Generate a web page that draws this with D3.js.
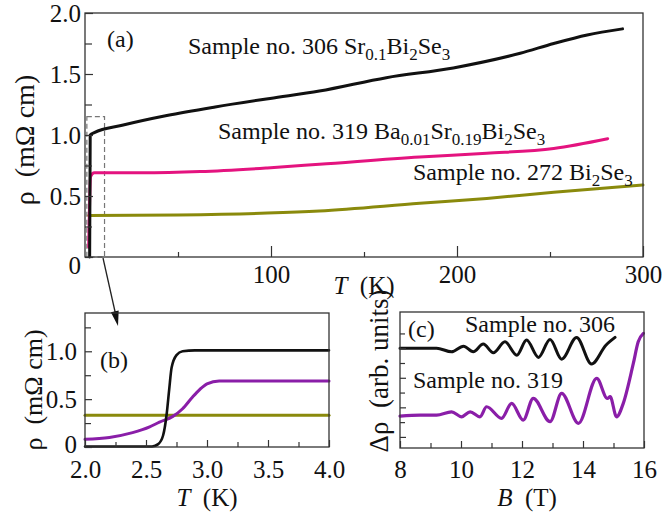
<!DOCTYPE html>
<html>
<head>
<meta charset="utf-8">
<script src="https://cdn.jsdelivr.net/npm/d3@7"></script>
<style>
  body { margin: 0; background: #fff; }
  svg text { font-family: "Liberation Serif", "Times New Roman", serif; fill: #111; }
</style>
</head>
<body>
<script>
// panel (a): rho(T) for three samples, 0..300 K
const tempA306 = [2.5, 2.8, 5, 20, 44, 70, 99.5, 126, 162, 198, 234, 252, 270, 289];
const rhoA306 = [0.0, 1.0, 1.02, 1.08, 1.16, 1.23, 1.30, 1.36, 1.47, 1.55, 1.67, 1.75, 1.82, 1.87];
const tempA319 = [2.0, 3.0, 5, 30, 62, 98, 126, 180, 216, 252, 281];
const rhoA319 = [0.08, 0.66, 0.69, 0.69, 0.70, 0.73, 0.76, 0.82, 0.85, 0.89, 0.97];
const tempA272 = [2, 50, 98, 126, 180, 216, 252, 300];
const rhoA272 = [0.34, 0.345, 0.36, 0.377, 0.44, 0.48, 0.53, 0.59];

// panel (b): zoom on the transition, 2..4 K
const tempB306 = [2.0, 2.3, 2.55, 2.6, 2.64, 2.67, 2.69, 2.71, 2.75, 2.8, 2.9, 4.0];
const rhoB306 = [0.005, 0.005, 0.005, 0.03, 0.12, 0.35, 0.6, 0.83, 0.96, 1.0, 1.01, 1.01];
const tempB319 = [2.0, 2.2, 2.39, 2.53, 2.61, 2.72, 2.8, 2.88, 2.94, 3.0, 3.1, 3.5, 4.0];
const rhoB319 = [0.08, 0.10, 0.15, 0.21, 0.26, 0.32, 0.40, 0.52, 0.60, 0.66, 0.69, 0.69, 0.69];
const tempB272 = [2.0, 4.0];
const rhoB272 = [0.333, 0.333];

// panel (c): SdH oscillations, arb. units
const fieldC306 = [8.0, 8.6, 9.2, 9.69, 10.08, 10.4, 10.73, 11.06, 11.44, 11.83, 12.15, 12.54, 12.92, 13.3, 13.79, 14.28, 14.75, 15.05];
const drhoC306 = [6.0, 6.0, 6.0, 5.76, 6.14, 5.76, 6.28, 5.69, 6.43, 5.53, 6.55, 5.38, 6.59, 5.26, 6.73, 4.93, 6.2, 6.73];
const fieldC319 = [8.0, 8.66, 9.2, 9.69, 10.02, 10.3, 10.62, 10.84, 11.33, 11.66, 12.04, 12.37, 12.92, 13.3, 13.85, 14.45, 14.8, 14.89, 15.1, 15.32, 15.65, 15.81, 15.98];
const drhoC319 = [1.41, 1.48, 1.48, 1.70, 1.36, 1.70, 1.36, 2.04, 1.26, 2.27, 1.14, 2.61, 1.03, 2.95, 0.92, 3.96, 2.6, 2.72, 1.36, 2.27, 4.97, 6.43, 7.0];

const serif = '"Liberation Serif", "Times New Roman", serif';
const black = '#111', pink = '#e4137f', olive = '#8a8a0c', purple = '#8a1ea8';

const svg = d3.select('body')
  .append('svg')
  .attr('width', 666)
  .attr('height', 515);

function zip(xs, ys) {
  return xs.map((v, i) => [v, ys[i]]);
}

function frame(x, y) {
  svg.append('rect')
    .attr('x', x.range()[0])
    .attr('y', y.range()[1])
    .attr('width', x.range()[1] - x.range()[0])
    .attr('height', y.range()[0] - y.range()[1])
    .attr('fill', 'none')
    .attr('stroke', '#333')
    .attr('stroke-width', 1.3);
}

function ticks(axis, pos, values, size, fmt, pad) {
  const g = svg.append('g')
    .attr('transform', pos)
    .call(axis.tickValues(values).tickSize(-size).tickPadding(pad || 6)
      .tickFormat(fmt || (() => '')));
  g.attr('font-family', null).attr('font-size', null);
  g.select('.domain').remove();
  g.selectAll('line').attr('stroke', '#333').attr('stroke-width', 1.2);
  g.selectAll('text')
    .style('font-family', serif)
    .style('font-size', '25px');
  if (!fmt) g.selectAll('text').remove();
  return g;
}

function curve(x, y, data, color, width) {
  const line = d3.line()
    .x(d => x(d[0]))
    .y(d => y(d[1]))
    .curve(d3.curveMonotoneX);
  svg.append('path')
    .datum(data)
    .attr('fill', 'none')
    .attr('stroke', color)
    .attr('stroke-width', width)
    .attr('stroke-linejoin', 'round')
    .attr('stroke-linecap', 'round')
    .attr('d', line);
}

// parts: plain strings, or ['sub', text] for a subscript
function label(x, y, parts) {
  const t = svg.append('text')
    .attr('x', x)
    .attr('y', y)
    .style('font-size', '24px');
  let back = 0;
  parts.forEach(p => {
    if (typeof p === 'string') {
      t.append('tspan').attr('dy', back).text(p);
      back = 0;
    } else {
      t.append('tspan').attr('dy', 6 + back).style('font-size', '17px').text(p[1]);
      back = -6;
    }
  });
  return t;
}

function vtitle(cx, cy, text, size) {
  svg.append('text')
    .attr('transform', `translate(${cx}, ${cy}) rotate(-90)`)
    .attr('text-anchor', 'middle')
    .style('font-size', size + 'px')
    .style('white-space', 'pre')
    .text(text);
}

function htitle(cx, cy, sym, unit, size) {
  const t = svg.append('text')
    .attr('x', cx)
    .attr('y', cy)
    .attr('text-anchor', 'middle')
    .style('font-size', size + 'px')
    .style('white-space', 'pre');
  t.append('tspan').style('font-style', 'italic').text(sym);
  t.append('tspan').text('  ' + unit);
}

// ---------- panel (a) ----------
const xA = d3.scaleLinear().domain([0, 300]).range([85, 643]);
const yA = d3.scaleLinear().domain([0, 2]).range([257, 13]);

// dashed zoom box
svg.append('rect')
  .attr('x', xA(1))
  .attr('y', yA(1.15))
  .attr('width', xA(10.5) - xA(1))
  .attr('height', yA(0) - yA(1.15))
  .attr('fill', 'none')
  .attr('stroke', '#777')
  .attr('stroke-width', 1.2)
  .attr('stroke-dasharray', '5,3');

curve(xA, yA, zip(tempA272, rhoA272), olive, 3);
curve(xA, yA, zip(tempA319, rhoA319), pink, 3);
curve(xA, yA, zip(tempA306, rhoA306), black, 3);
frame(xA, yA);

ticks(d3.axisBottom(xA), `translate(0, ${yA(0)})`, [100, 200, 300], 11, d3.format('d'), 8);
ticks(d3.axisBottom(xA), `translate(0, ${yA(0)})`, [50, 150, 250], 5);
const yAx = ticks(d3.axisLeft(yA), `translate(${xA.range()[0]}, 0)`, [0, 0.5, 1, 1.5, 2], 8,
  d => d === 0 ? '0' : d3.format('.1f')(d), 4);
yAx.selectAll('text').filter(d => d === 0).attr('dy', '0.65em');
ticks(d3.axisLeft(yA), `translate(${xA.range()[0]}, 0)`, [0.25, 0.75, 1.25, 1.75], 7);

label(107, 47, ['(a)']);
label(188, 54, ['Sample no. 306 Sr', ['sub', '0.1'], 'Bi', ['sub', '2'], 'Se', ['sub', '3']]);
label(218, 139, ['Sample no. 319 Ba', ['sub', '0.01'], 'Sr', ['sub', '0.19'], 'Bi', ['sub', '2'], 'Se', ['sub', '3']]);
label(413, 180, ['Sample no. 272 Bi', ['sub', '2'], 'Se', ['sub', '3']]);

vtitle(34, 140, 'ρ  (mΩ cm)', 28);
htitle(364, 294, 'T', '(K)', 25);

// arrow from the zoom box to panel (b)
const tip = [118, 326], tail = [103, 258];
svg.append('line')
  .attr('x1', tail[0]).attr('y1', tail[1])
  .attr('x2', tip[0] - 2).attr('y2', tip[1] - 10)
  .attr('stroke', '#222')
  .attr('stroke-width', 1.3);
{
  const dx = tip[0] - tail[0], dy = tip[1] - tail[1];
  const len = Math.hypot(dx, dy), ux = dx / len, uy = dy / len;
  const bx = tip[0] - 15 * ux, by = tip[1] - 15 * uy;
  svg.append('polygon')
    .attr('points', [tip, [bx - 4 * uy, by + 4 * ux], [bx + 4 * uy, by - 4 * ux]].map(p => p.join(',')).join(' '))
    .attr('fill', '#111');
}

// ---------- panel (b) ----------
const xB = d3.scaleLinear().domain([2, 4]).range([85, 329]);
const yB = d3.scaleLinear().domain([0, 1.4]).range([447, 313]);

curve(xB, yB, zip(tempB272, rhoB272), olive, 3);
curve(xB, yB, zip(tempB319, rhoB319), purple, 3);
curve(xB, yB, zip(tempB306, rhoB306), black, 2.6);
frame(xB, yB);

ticks(d3.axisBottom(xB), `translate(0, ${yB(0)})`, [2, 2.5, 3, 3.5, 4], 7, d3.format('.1f'), 13);
ticks(d3.axisBottom(xB), `translate(0, ${yB(0)})`, [2.25, 2.75, 3.25, 3.75], 5);
const yBx = ticks(d3.axisLeft(yB), `translate(${xB.range()[0]}, 0)`, [0, 0.5, 1], 7,
  d => d === 0 ? '0' : d3.format('.1f')(d), 8);
yBx.selectAll('text').filter(d => d === 0).attr('dy', '0.2em');
ticks(d3.axisLeft(yB), `translate(${xB.range()[0]}, 0)`, [0.25, 0.75, 1.25], 6);

label(100, 368, ['(b)']);
vtitle(42, 390, 'ρ  (mΩ cm)', 26);
htitle(207, 506, 'T', '(K)', 25);

// ---------- panel (c) ----------
const xC = d3.scaleLinear().domain([8, 16]).range([400, 644]);
const yC = d3.scaleLinear().domain([-0.75, 8.45]).range([448, 312]);

curve(xC, yC, zip(fieldC319, drhoC319), purple, 3.2);
curve(xC, yC, zip(fieldC306, drhoC306), black, 3);
frame(xC, yC);

ticks(d3.axisBottom(xC), `translate(0, ${yC.range()[0]})`, [8, 10, 12, 14, 16], 7, d3.format('d'), 12);
ticks(d3.axisBottom(xC), `translate(0, ${yC.range()[0]})`, [9, 11, 13, 15], 5);
ticks(d3.axisLeft(yC), `translate(${xC.range()[0]}, 0)`, [0, 2, 4, 6], 6);
ticks(d3.axisLeft(yC), `translate(${xC.range()[0]}, 0)`, [1, 3, 5, 7], 5);

label(408, 337, ['(c)']);
label(465, 332, ['Sample no. 306']);
label(413, 388, ['Sample no. 319']);
vtitle(388, 371, 'Δρ  (arb. units)', 27);
htitle(527, 506, 'B', '(T)', 25);
</script>
</body>
</html>
